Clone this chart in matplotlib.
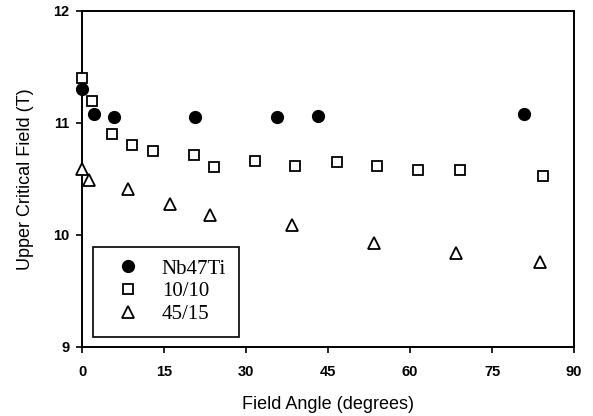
import numpy as np
import matplotlib
matplotlib.use("Agg")
import matplotlib.pyplot as plt

# Upper critical field vs field angle
nb_angle = [0.0, 2.2, 5.9, 20.7, 35.6, 43.2, 80.9]
nb_hc2 = [11.30, 11.08, 11.05, 11.05, 11.05, 11.06, 11.08]

s10_angle = [0.0, 1.9, 5.4, 9.1, 12.9, 20.4, 24.1, 31.6, 39.0, 46.6, 54.0, 61.5, 69.1, 84.4]
s10_hc2 = [11.40, 11.20, 10.90, 10.80, 10.75, 10.71, 10.61, 10.66, 10.62, 10.65,
           10.62, 10.58, 10.58, 10.53]

s45_angle = [0.0, 1.2, 8.5, 16.1, 23.4, 38.5, 53.5, 68.5, 83.8]
s45_hc2 = [10.59, 10.49, 10.41, 10.28, 10.18, 10.09, 9.93, 9.84, 9.76]

x_ticks = [0, 15, 30, 45, 60, 75, 90]
y_ticks = [9, 10, 11, 12]

fig = plt.figure(figsize=(5.93, 4.16), dpi=100)
ax = fig.add_axes([0.1383, 0.1659, 0.8297, 0.8077])

ax.plot(nb_angle, nb_hc2, "o", ms=8.5, mfc="black", mec="black",
        clip_on=False, label="Nb47Ti", zorder=5)
ax.plot(s10_angle, s10_hc2, "s", ms=7, mfc="white", mec="black", mew=1.3,
        clip_on=False, label="10/10", zorder=4)
ax.plot(s45_angle, s45_hc2, "^", ms=8, mfc="white", mec="black", mew=1.3,
        clip_on=False, label="45/15", zorder=4)

ax.set_xlim(0, 90)
ax.set_ylim(9, 12)
ax.set_xticks(x_ticks)
ax.set_yticks(y_ticks)
for lab in ax.get_xticklabels() + ax.get_yticklabels():
    lab.set_fontfamily("Liberation Sans")
    lab.set_fontweight("bold")
    lab.set_fontsize(10.5)
ax.tick_params(direction="out", length=4, width=1.2)
ax.tick_params(axis="x", pad=9)
ax.tick_params(axis="y", pad=5)
for sp in ax.spines.values():
    sp.set_linewidth(1.4)

ax.set_xlabel("Field Angle (degrees)", fontsize=13, family="Liberation Sans", labelpad=12)
ax.set_ylabel("Upper Critical Field (T)", fontsize=13, family="Liberation Sans", labelpad=14)

leg = ax.legend(loc="lower left", bbox_to_anchor=(0.0217, 0.0307), fancybox=False,
                frameon=True, edgecolor="black", framealpha=1,
                prop={"family": "Liberation Serif", "size": 15},
                handletextpad=0.56, labelspacing=0.15, borderpad=0.6,
                borderaxespad=0, handlelength=2.16)
leg.get_frame().set_linewidth(1.2)

fig.savefig("out.png", dpi=100)
